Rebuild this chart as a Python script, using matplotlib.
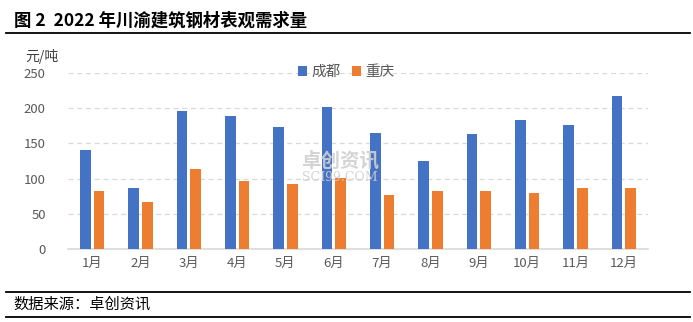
import numpy as np
import matplotlib; matplotlib.use("Agg")
import matplotlib.pyplot as plt
from matplotlib.lines import Line2D

plt.rcParams["font.family"] = ["Noto Sans CJK SC", "DejaVu Sans"]

months = [f"{i}月" for i in range(1, 13)]
chengdu = [141, 87, 196, 189, 173, 202, 165, 125, 163, 183, 176, 217]
chongqing = [83, 67, 114, 97, 93, 101, 76, 83, 82, 80, 87, 87]
yticks = [0, 50, 100, 150, 200, 250]

fig = plt.figure(figsize=(6.93, 3.22), dpi=100)
ax = fig.add_axes([0.098, 0.227, 0.837, 0.546])

x = np.arange(len(months))
w = 0.22
ax.bar(x - 0.14, chengdu, w, color="#4472C4", label="成都", zorder=3)
ax.bar(x + 0.14, chongqing, w, color="#ED7D31", label="重庆", zorder=3)

ax.set_xlim(-0.5, len(months) - 0.5)
ax.set_ylim(0, 250)
ax.set_yticks(yticks)
ax.set_xticks(x)
ax.set_xticklabels(months)
ax.tick_params(axis="both", length=0, labelsize=9.5, colors="#595959")
ax.tick_params(axis="x", pad=6)
ax.tick_params(axis="y", pad=16)
ax.grid(axis="y", ls=(0, (4, 3)), c="#D9D9D9", lw=0.9, zorder=0)
for s in ["top", "right", "left"]:
    ax.spines[s].set_visible(False)
ax.spines["bottom"].set_color("#D9D9D9")
ax.spines["bottom"].set_linewidth(1.2)

ax.text(-0.045, 1.05, "元/吨", transform=ax.transAxes, fontsize=10,
        color="#404040", ha="center", va="bottom")
ax.legend(loc="upper center", bbox_to_anchor=(0.48, 1.12), ncol=2, frameon=False,
          fontsize=10.5, handlelength=0.6, handleheight=0.6, handletextpad=0.3,
          columnspacing=0.8, labelcolor="#595959")

# watermark
fig.text(0.49, 0.50, "卓创资讯", fontsize=14, color="#D0D0D0", ha="center",
         va="center", fontweight="bold", alpha=0.9)
fig.text(0.49, 0.45, "SCI99.COM", fontsize=9, color="#D0D0D0", ha="center",
         va="center", family="DejaVu Serif", alpha=0.9)

fig.text(0.02, 0.935, "图 2  2022 年川渝建筑钢材表观需求量", fontsize=12.5,
         fontweight="bold", ha="left", va="center")
fig.add_artist(Line2D([0.008, 0.995], [0.897, 0.897], color="black", lw=1.3))
fig.add_artist(Line2D([0.008, 0.995], [0.094, 0.094], color="black", lw=1.3))
fig.add_artist(Line2D([0.008, 0.995], [0.014, 0.014], color="black", lw=1.3))
fig.text(0.02, 0.054, "数据来源：卓创资讯", fontsize=11, ha="left", va="center")

fig.savefig("out.png", dpi=100)
